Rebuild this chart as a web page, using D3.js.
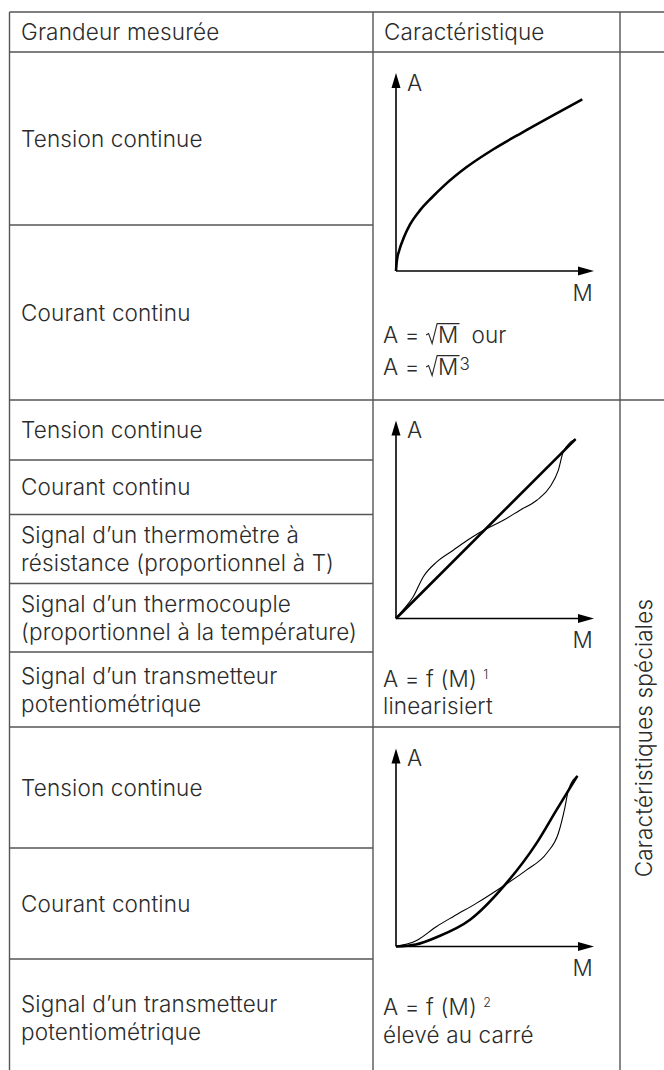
<!DOCTYPE html>
<html>
<head>
<meta charset="utf-8">
<script src="https://cdn.jsdelivr.net/npm/d3@7"></script>
<style>
  body { margin: 0; background: #fff; }
  svg { display: block; }
  text { font-family: Inter, "Liberation Sans", Arial, sans-serif; font-weight: 300; fill: #2b2b2b; letter-spacing: 0.15px; }
</style>
</head>
<body>
<div id="chart"></div>
<script>
// ##################################
//  DATA
// ##################################

const headers = ["Grandeur mesurée", "Caractéristique"]
const sideLabel = "Caractéristiques spéciales"

// measured quantities, one entry per row (lines of text)
const rowsSqrt = [["Tension continue"], ["Courant continu"]]
const rowsLinear = [
  ["Tension continue"],
  ["Courant continu"],
  ["Signal d’un thermomètre à", "résistance (proportionnel à T)"],
  ["Signal d’un thermocouple", "(proportionnel à la température)"],
  ["Signal d’un transmetteur", "potentiométrique"],
]
const rowsSquare = [
  ["Tension continue"],
  ["Courant continu"],
  ["Signal d’un transmetteur", "potentiométrique"],
]

// characteristic curves, M and A in % of the axis length
const sqrtM = [0, 0.4, 1.7, 4, 7.1, 12, 18, 24.7, 35.7, 49.2, 63.5, 78.6, 94.1]
const sqrtA = [0, 5, 10.6, 17, 23.5, 30.5, 37, 43.5, 52.5, 61.5, 69.8, 78.2, 86.7]

const linM = [0, 90.7]
const linA = [0, 90.6]
const linSignalM = [0, 3.7, 8.7, 13.8, 20.6, 28.9, 37.4, 44.9, 54.2, 62.6, 71.1, 77.8, 82.0, 84.5, 90.7]
const linSignalA = [0, 4.5, 11.0, 21.1, 28.6, 34.5, 40.4, 44.9, 49.6, 54.7, 59.7, 66.5, 74.9, 84.2, 90.6]

const sqM = [0, 10, 20.5, 37.4, 55, 71, 81.1, 91.6]
const sqA = [0, 1, 4.7, 13.5, 31.1, 52.2, 69, 86.2]
const sqSignalM = [0, 10.4, 20.5, 29, 40.7, 55, 66, 76.1, 82, 85.4, 87, 91.6]
const sqSignalA = [0, 3.0, 10.1, 15.2, 21.9, 31.1, 38.7, 47.1, 57.2, 70.7, 78.8, 86.2]

const axisLabels = ["M", "A"]

// formulas: kind = "root" (radical over the part), "sup", "small" (small superscript)
const formulaSqrt = [
  [{ t: "A = " }, { kind: "root", t: "M" }, { t: "  our" }],
  [{ t: "A = " }, { kind: "root", t: "M" }, { kind: "sup", t: "3" }],
]
const formulaLinear = [
  [{ t: "A = f (M) " }, { kind: "small", t: "1" }],
  [{ t: "linearisiert" }],
]
const formulaSquare = [
  [{ t: "A = f (M) " }, { kind: "small", t: "2" }],
  [{ t: "élevé au carré" }],
]

// ##################################
//  LAYOUT
// ##################################

const W = 664
const H = 1070
const fs = 22.5
const lineH = 28
const capH = fs * 0.727
const lineColor = "#555"

const xLeft = 9.5
const xMid = 373
const xRight = 620
const tableTop = 12
const headerBottom = 52
const tableBottom = 1076

const sections = [
  { rows: rowsSqrt, breaks: [52, 225, 400], origin: [396, 271], formula: formulaSqrt, fy: [72, 104] },
  { rows: rowsLinear, breaks: [400, 460, 514.5, 583.5, 652, 727], origin: [396, 618.5], formula: formulaLinear, fy: [68, 95.5] },
  { rows: rowsSquare, breaks: [727, 848, 959, 1076], origin: [396, 946.5], formula: formulaSquare, fy: [68.5, 96.5] },
]
const curves = [
  [{ m: sqrtM, a: sqrtA, w: 2.6 }],
  [{ m: linSignalM, a: linSignalA, w: 1.1 }, { m: linM, a: linA, w: 2.6 }],
  [{ m: sqSignalM, a: sqSignalA, w: 1.1 }, { m: sqM, a: sqA, w: 2.6 }],
]

const axisLen = 198
const x = d3.scaleLinear().domain([0, 100]).range([0, axisLen])
const y = d3.scaleLinear().domain([0, 100]).range([0, -axisLen])

const svg = d3.select("#chart").append("svg").attr("width", W).attr("height", H)

// ##################################
//  TABLE GRID
// ##################################
const grid = svg.append("g").attr("stroke", lineColor).attr("stroke-width", 1.4)

const hline = (yy, x0, x1) => grid.append("line").attr("x1", x0).attr("x2", x1).attr("y1", yy).attr("y2", yy)
const vline = (xx, y0, y1) => grid.append("line").attr("x1", xx).attr("x2", xx).attr("y1", y0).attr("y2", y1)

hline(tableTop, xLeft, W)
hline(headerBottom, xLeft, W)
hline(sections[1].breaks[0], xLeft, W)
hline(sections[2].breaks[0], xLeft, xRight)
sections.forEach((s) => s.breaks.slice(1, -1).forEach((b) => hline(b, xLeft, xMid)))
;[xLeft, xMid, xRight].forEach((xx) => vline(xx, tableTop, tableBottom))

// ##################################
//  TEXT
// ##################################
const txt = svg.append("g").style("font-size", fs + "px")

const rowText = (lines, y0, y1, xx) => {
  const cy = (y0 + y1) / 2
  lines.forEach((s, i) =>
    txt.append("text")
      .attr("x", xx)
      .attr("y", cy + (i - (lines.length - 1) / 2) * lineH + capH / 2)
      .text(s)
  )
}

rowText([headers[0]], tableTop, headerBottom, 21)
rowText([headers[1]], tableTop, headerBottom, 384)

sections.forEach((s) => {
  s.rows.forEach((lines, i) => rowText(lines, s.breaks[i], s.breaks[i + 1], 21))
})

txt.append("text")
  .attr("transform", "translate(652, 738) rotate(-90)")
  .attr("text-anchor", "middle")
  .text(sideLabel)

// ##################################
//  CHARACTERISTIC CHARTS
// ##################################
const smooth = d3.line()
  .x((d) => x(d[0]))
  .y((d) => y(d[1]))
  .curve(d3.curveMonotoneX)

const drawFormula = (g, x0, yy, parts) => {
  let cx = x0
  parts.forEach((p) => {
    if (p.kind === "root") {
      const rw = 11
      const t = g.append("text").attr("x", cx + rw + 1).attr("y", yy).text(p.t)
      const w = t.node().getComputedTextLength()
      const top = yy - capH - 3
      g.append("path")
        .attr("fill", "none")
        .attr("stroke", "#2b2b2b")
        .attr("stroke-width", 1.1)
        .attr("d", `M${cx},${yy - 8} L${cx + 2.5},${yy - 9.5} L${cx + 6},${yy + 0.5} L${cx + rw},${top} H${cx + rw + w + 2}`)
      cx += rw + 1 + w
    } else if (p.kind === "sup") {
      const t = g.append("text").attr("x", cx + 1).attr("y", yy - 5).style("font-size", "17px").text(p.t)
      cx += 1 + t.node().getComputedTextLength()
    } else if (p.kind === "small") {
      const t = g.append("text").attr("x", cx).attr("y", yy - 8).style("font-size", "12.5px").text(p.t)
      cx += t.node().getComputedTextLength()
    } else {
      const t = g.append("text").attr("x", cx).attr("y", yy).style("white-space", "pre").text(p.t)
      cx += t.node().getComputedTextLength()
    }
  })
}

sections.forEach((s, i) => {
  const [ox, oy] = s.origin
  const g = svg.append("g").attr("transform", `translate(${ox}, ${oy})`)

  // axes with arrow heads
  const ax = g.append("g").attr("stroke", "#000").attr("stroke-width", 1.6)
  ax.append("line").attr("x1", x(0)).attr("y1", y(0)).attr("x2", x(100) - 10).attr("y2", y(0))
  ax.append("line").attr("x1", x(0)).attr("y1", y(0)).attr("x2", x(0)).attr("y2", y(100) + 10)
  g.append("path").attr("fill", "#000")
    .attr("d", `M${x(100)},${y(0)} l-16,-4.5 v9 Z`)
  g.append("path").attr("fill", "#000")
    .attr("d", `M${x(0)},${y(100)} l-4.5,15 h9 Z`)

  g.append("text").attr("x", x(0) + 11).attr("y", y(100) + 17.5).style("font-size", fs + "px").text(axisLabels[1])
  g.append("text").attr("x", x(100) - 1).attr("y", y(0) + 29.5).attr("text-anchor", "end").style("font-size", fs + "px").text(axisLabels[0])

  curves[i].forEach((c) => {
    g.append("path")
      .attr("fill", "none")
      .attr("stroke", "#000")
      .attr("stroke-width", c.w)
      .attr("stroke-linejoin", "round")
      .attr("d", smooth(d3.zip(c.m, c.a)))
  })

  const fg = svg.append("g").style("font-size", fs + "px")
  s.formula.forEach((parts, j) => drawFormula(fg, 383, oy + s.fy[j], parts))
})
</script>
</body>
</html>
